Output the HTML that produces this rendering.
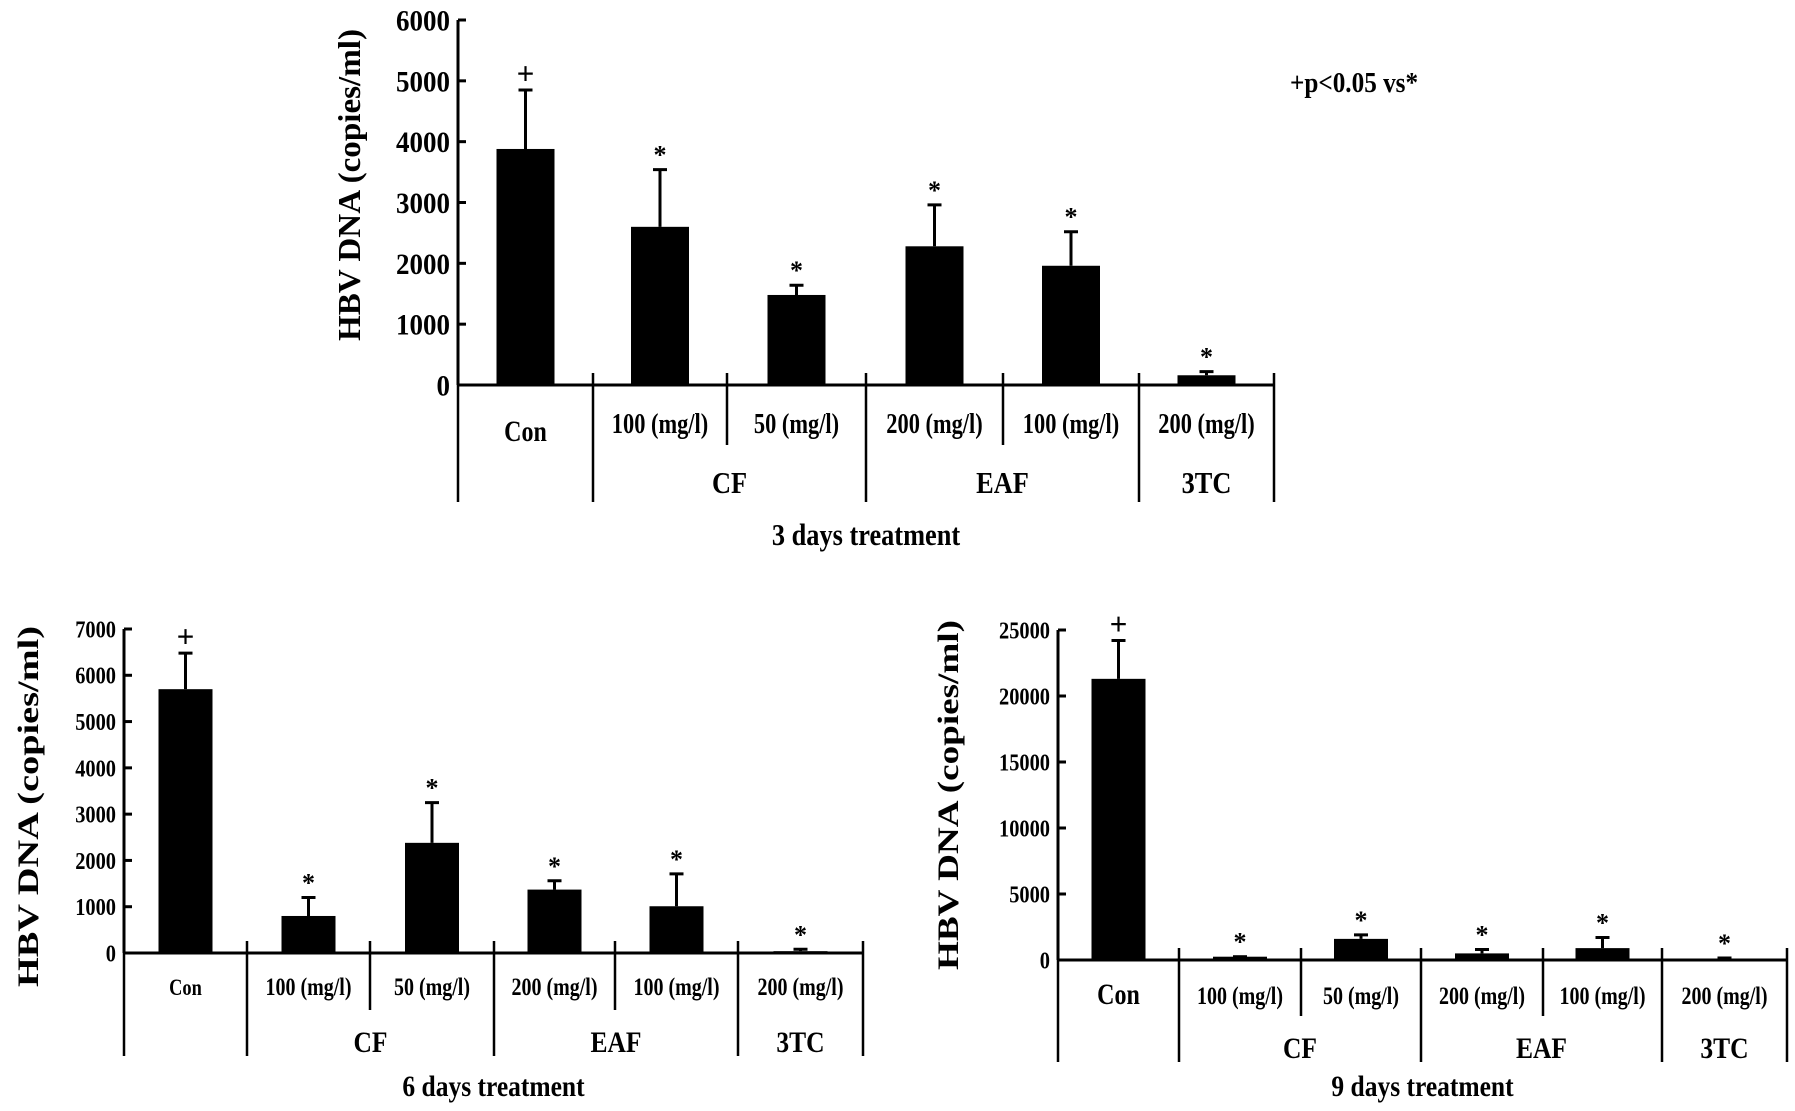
<!DOCTYPE html>
<html><head><meta charset="utf-8"><style>
html,body{margin:0;padding:0;background:#fff;}
svg{display:block;font-family:"Liberation Serif",serif;font-weight:bold;}
</style></head><body>
<svg id="fig" width="1795" height="1111" viewBox="0 0 1795 1111" xmlns="http://www.w3.org/2000/svg">
<text transform="translate(1290,92) scale(0.9,1)" font-size="28">+p&lt;0.05 vs*</text>
</svg>
<script>
const categories = ["Con","100 (mg/l)","50 (mg/l)","200 (mg/l)","100 (mg/l)","200 (mg/l)"];
const groups = ["CF","EAF","3TC"];
const marks = ["+","*","*","*","*","*"];
const day3Values = [3880, 2600, 1480, 2280, 1960, 160];
const day3Errors = [4850, 3540, 1640, 2960, 2520, 220];
const day3Ticks = [0,1000,2000,3000,4000,5000,6000];
const day6Values = [5700, 800, 2380, 1370, 1010, 40];
const day6Errors = [6480, 1200, 3250, 1560, 1710, 80];
const day6Ticks = [0,1000,2000,3000,4000,5000,6000,7000];
const day9Values = [21300, 250, 1600, 500, 900, 100];
const day9Errors = [24200, 250, 1900, 800, 1700, 150];
const day9Ticks = [0,5000,10000,15000,20000,25000];
const titles = ["3 days treatment","6 days treatment","9 days treatment"];

const NS="http://www.w3.org/2000/svg";
const svg=document.getElementById('fig');
function mk(tag,attrs,parent){const e=document.createElementNS(NS,tag);for(const k in attrs)e.setAttribute(k,attrs[k]);(parent||svg).appendChild(e);return e;}
function txt(parent,x,y,size,anchor,sx,str){
  const t=mk('text',{transform:`translate(${x},${y}) scale(${sx},1)`,'font-size':size,'text-anchor':anchor},parent);
  t.textContent=str;
  return t;
}

function drawChart(cfg, values, errors, ticks, title, key){
  const g=mk('g',{});
  
  
  const max=ticks[ticks.length-1];
  const y=v=>cfg.y0-(v/max)*(cfg.y0-cfg.yTop);
  const n=categories.length;
  const slots=cfg.div;
  const ya=mk('line',{x1:cfg.x0,y1:cfg.yTop,x2:cfg.x0,y2:cfg.y0,stroke:'#000','stroke-width':3},g);
  
  
  const xa=mk('line',{x1:cfg.x0,y1:cfg.y0,x2:slots[n],y2:cfg.y0,stroke:'#000','stroke-width':3},g);
  
  
  ticks.forEach(t=>{
    mk('line',{x1:cfg.x0,y1:y(t),x2:cfg.x0+8,y2:y(t),stroke:'#000','stroke-width':3},g);
    const tl=txt(g,cfg.x0-8,y(t)+cfg.tf*0.35,cfg.tf,'end',cfg.tsx,String(t));
    
    
  });
  const longIdx=[0,1,3,5,6];
  for(let i=0;i<=n;i++){
    const isLong=longIdx.includes(i);
    mk('line',{x1:slots[i],y1:cfg.y0-(i===0?0:12),x2:slots[i],y2:isLong?cfg.yBot:cfg.yShort,stroke:'#000','stroke-width':2.5},g);
  }
  for(let i=0;i<n;i++){
    const cx=(slots[i]+slots[i+1])/2;
    const bw=cfg.bw;
    const bar=mk('rect',{x:cx-bw/2,y:y(values[i]),width:bw,height:cfg.y0-y(values[i]),fill:'#000'},g);
    
    
    const ey=y(errors[i]);
    const eb=mk('path',{d:`M${cx} ${y(values[i])}V${ey}M${cx-7} ${ey}H${cx+7}`,stroke:'#000','stroke-width':3,fill:'none'},g);
    
    
    const mkT=txt(g,cx,ey-6,marks[i]==='+'?cfg.mf*1.2:cfg.mf,'middle',1,marks[i]);
    
    
    const cl=txt(g,cx,cfg.labY+(i===0?cfg.conDy:0),i===0?cfg.conF:cfg.lf,'middle',0.8,categories[i]);
    
    
  }
  const gp=[[1,3],[3,5],[5,6]];
  groups.forEach((gn,j)=>{
    const gt=txt(g,(slots[gp[j][0]]+slots[gp[j][1]])/2,cfg.grpY,cfg.gf,'middle',0.85,gn);
    
    
  });
  const tt=txt(g,(cfg.x0+slots[n])/2,cfg.titY,cfg.gf,'middle',0.85,title);
  
  
  const yc=(cfg.ytA+cfg.ytB)/2;
  const yt=mk('text',{x:cfg.ytX,y:yc,'font-size':cfg.ytF,'text-anchor':'middle',transform:`rotate(-90 ${cfg.ytX} ${yc})`,textLength:cfg.ytB-cfg.ytA,lengthAdjust:'spacingAndGlyphs'},g);
  yt.textContent="HBV DNA (copies/ml)";
  
  
}

drawChart({x0:458,yTop:20,y0:385,div:[458,593,727,866,1003,1139,1274],yBot:502,yShort:445,bw:58,tf:30,tsx:0.9,mf:26,lf:28,conF:30,conDy:8,labY:433,grpY:493,gf:31,titY:545,ytX:360,ytA:29,ytB:341,ytF:32},
  day3Values,day3Errors,day3Ticks,titles[0],'day3');
drawChart({x0:124,yTop:629,y0:953,div:[124,247,370,494,615,738,863],yBot:1056,yShort:1010,bw:54,tf:24,tsx:0.85,mf:26,lf:25,conF:23,conDy:0,labY:995,grpY:1052,gf:30,titY:1096,ytX:38,ytA:626,ytB:987,ytF:30},
  day6Values,day6Errors,day6Ticks,titles[1],'day6');
drawChart({x0:1058,yTop:630,y0:960,div:[1058,1179,1301,1421,1543,1662,1787],yBot:1062,yShort:1016,bw:54,tf:24,tsx:0.85,mf:26,lf:25,conF:30,conDy:0,labY:1004,grpY:1058,gf:30,titY:1096,ytX:958,ytA:620,ytB:970,ytF:30},
  day9Values,day9Errors,day9Ticks,titles[2],'day9');
</script>
</body></html>
